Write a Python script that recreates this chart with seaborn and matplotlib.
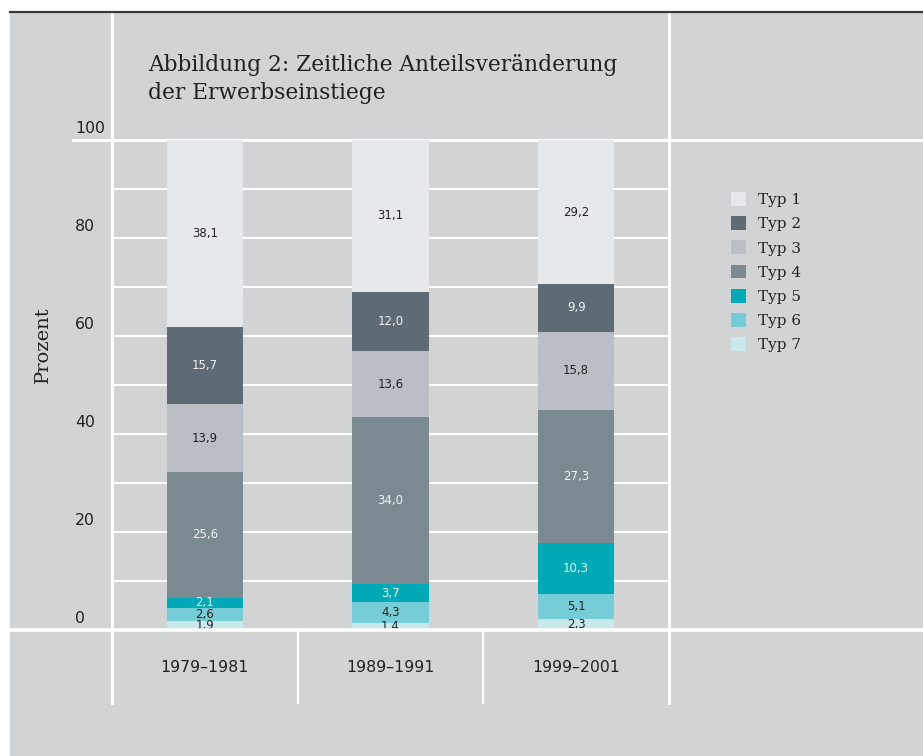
import matplotlib
matplotlib.use("Agg")
import matplotlib.pyplot as plt
import seaborn as sns
from matplotlib.patches import Rectangle, Patch
from matplotlib.lines import Line2D

# Daten (Prozent)
periods = ["1979–1981", "1989–1991", "1999–2001"]
types = ["Typ 1", "Typ 2", "Typ 3", "Typ 4", "Typ 5", "Typ 6", "Typ 7"]
typ1 = [38.1, 31.1, 29.2]
typ2 = [15.7, 12.0, 9.9]
typ3 = [13.9, 13.6, 15.8]
typ4 = [25.6, 34.0, 27.3]
typ5 = [2.1, 3.7, 10.3]
typ6 = [2.6, 4.3, 5.1]
typ7 = [1.9, 1.4, 2.3]
values = [typ1, typ2, typ3, typ4, typ5, typ6, typ7]
y_ticks = [0, 20, 40, 60, 80, 100]

colors = ["#e6e9ec", "#5f6b74", "#b9bfc5", "#7b8a90", "#00a9b5", "#77cdd7", "#c8e8ea"]
label_colors = ["#222222", "#f2f2f2", "#222222", "#f2f2f2", "#e8f6f7", "#222222", "#222222"]
BG = "#d2d3d5"
TXT = "#222222"

plt.rcParams["font.family"] = "DejaVu Sans"

W, H = 923, 756
fx = lambda px: px / W
fy = lambda py: 1 - py / H

fig = plt.figure(figsize=(9.23, 7.56), dpi=100, facecolor="white")
fig.patches.append(Rectangle((fx(10), 0), 1 - fx(10), fy(12), transform=fig.transFigure,
                             color=BG, zorder=-5))
fig.add_artist(Line2D([fx(10), 1], [fy(12), fy(12)], color="#3a3a3a", lw=1.6,
                      transform=fig.transFigure))

ax = fig.add_axes([fx(112), fy(630), fx(669) - fx(112), fy(140) - fy(630)])
ax.set_facecolor("none")

# gestapelte Balken, von unten (Typ 7) nach oben (Typ 1)
bottom = [0, 0, 0]
for name, vals, col, tc in reversed(list(zip(types, values, colors, label_colors))):
    sns.barplot(x=periods, y=vals, bottom=bottom, color=col, width=0.41,
                saturation=1, errorbar=None, ax=ax, zorder=2)
    ax.bar_label(ax.containers[-1], labels=[f"{v:.1f}".replace(".", ",") for v in vals],
                 label_type="center", fontsize=8.5, color=tc)
    bottom = [b + v for b, v in zip(bottom, vals)]

ax.set_xlim(-0.5, 2.5)
ax.set_ylim(0, 100)
for s in ax.spines.values():
    s.set_visible(False)

# Gitter
for v in range(10, 100, 10):
    ax.axhline(v, color="white", lw=1.5, zorder=0)
ax.axhline(100, xmin=(73 - 112) / 557, xmax=(923 - 112) / 557, color="white", lw=2.2,
           clip_on=False, zorder=0)
ax.axhline(0, xmin=(10 - 112) / 557, xmax=(923 - 112) / 557, color="white", lw=2.6,
           clip_on=False, zorder=3)
for xv in [-0.5, 2.5]:
    ax.axvline(xv, ymin=-0.149, ymax=1.261, color="white", lw=2.2, clip_on=False, zorder=0)
for xv in [0.5, 1.5]:
    ax.axvline(xv, ymin=-0.149, ymax=0, color="white", lw=1.6, clip_on=False, zorder=0)

# Achsenbeschriftung
ax.set_yticks([])
for v in y_ticks:
    ax.text((75 - 112) / 557, v + 0.9, str(v), transform=ax.get_yaxis_transform(),
            ha="left", va="bottom", fontsize=11.3, color=TXT)
ax.set_xticks(range(len(periods)))
ax.set_xticklabels(periods, fontsize=11.3, color=TXT)
ax.tick_params(axis="x", length=0, pad=21.5)
ax.set_xlabel("")
ax.set_ylabel("")
ax.text((43 - 112) / 557, (630 - 345) / 490, "Prozent", transform=ax.transAxes,
        rotation=90, ha="center", va="center", fontsize=14, color=TXT,
        family="DejaVu Serif")

fig.text(fx(148), fy(54), "Abbildung 2: Zeitliche Anteilsveränderung\nder Erwerbseinstiege",
         ha="left", va="top", fontsize=15.7, color=TXT, family="DejaVu Serif", linespacing=1.38)

handles = [Patch(facecolor=c, label=t) for t, c in zip(types, colors)]
fig.legend(handles=handles, loc="upper left", bbox_to_anchor=(fx(731), fy(192)),
           frameon=False, prop={"family": "DejaVu Serif", "size": 11},
           handlelength=1.0, handleheight=1.0, handletextpad=0.8, labelspacing=0.6,
           borderpad=0, borderaxespad=0, labelcolor=TXT)

fig.savefig("out.png", dpi=100, facecolor=fig.get_facecolor())
